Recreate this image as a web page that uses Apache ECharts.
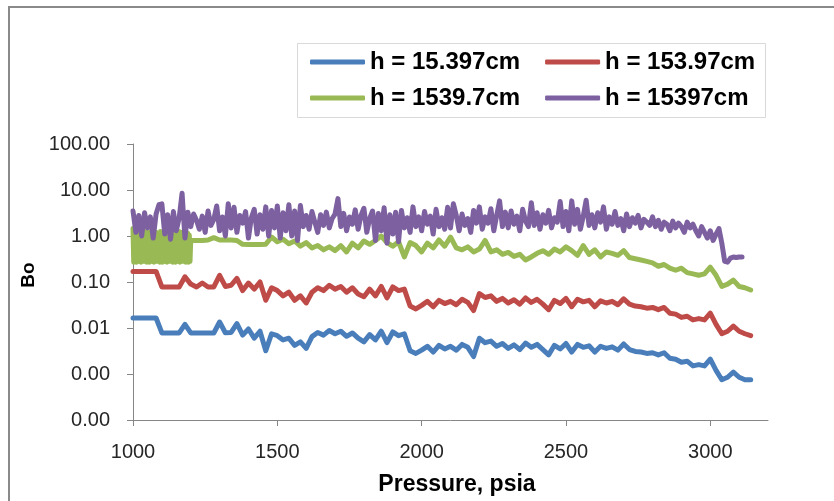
<!DOCTYPE html>
<html><head><meta charset="utf-8">
<script src="https://cdn.jsdelivr.net/npm/echarts@6/dist/echarts.min.js"></script>
<style>html,body{margin:0;padding:0;background:#fff}#c{width:834px;height:501px}</style>
</head><body><div id="c"></div>
<script>
const seriesNames = ['h = 15.397cm', 'h = 153.97cm', 'h = 1539.7cm', 'h = 15397cm'];
const xTickLabels = [1000, 1500, 2000, 2500, 3000];

const pressure = [1000,1020,1040,1060,1080,1100,1120,1140,1160,1180,
1200,1220,1240,1260,1280,1300,1320,1340,1360,1380,
1400,1420,1440,1460,1480,1500,1520,1540,1560,1580,
1600,1620,1640,1660,1680,1700,1720,1740,1760,1780,
1800,1820,1840,1860,1880,1900,1920,1940,1960,1980,
2000,2020,2040,2060,2080,2100,2120,2140,2160,2180,
2200,2220,2240,2260,2280,2300,2320,2340,2360,2380,
2400,2420,2440,2460,2480,2500,2520,2540,2560,2580,
2600,2620,2640,2660,2680,2700,2720,2740,2760,2780,
2800,2820,2840,2860,2880,2900,2920,2940,2960,2980,
3000,3020,3040,3060,3080,3100,3120,3140];

const blueBo = [0.0165,0.0165,0.0165,0.0165,0.0165,0.0078,0.0078,0.0078,0.0078,0.012,
0.0078,0.0078,0.0078,0.0078,0.0078,0.0135,0.0079,0.008,0.0125,0.007,
0.0095,0.006,0.0085,0.0032,0.0075,0.0068,0.0055,0.006,0.0042,0.005,
0.0036,0.0065,0.008,0.007,0.0088,0.0075,0.0085,0.0066,0.0078,0.006,
0.005,0.0072,0.0055,0.0085,0.0048,0.0082,0.0068,0.0075,0.0032,0.0028,
0.0033,0.004,0.003,0.0042,0.0035,0.004,0.0033,0.0044,0.0038,0.0024,
0.006,0.0048,0.0052,0.004,0.0046,0.0036,0.0043,0.0034,0.0047,0.0038,
0.0044,0.0034,0.0026,0.0042,0.0035,0.0046,0.003,0.0044,0.0038,0.0041,
0.003,0.004,0.0036,0.0039,0.0033,0.0045,0.0034,0.0031,0.003,0.0028,
0.0029,0.0026,0.0029,0.0022,0.0021,0.0018,0.0019,0.0015,0.0016,0.0015,
0.0021,0.0012,0.00075,0.00085,0.0011,0.00085,0.00075,0.00075];

const redBo = [0.17,0.17,0.17,0.17,0.17,0.078,0.078,0.078,0.078,0.13,
0.09,0.078,0.095,0.078,0.078,0.14,0.08,0.085,0.12,0.065,
0.095,0.07,0.1,0.04,0.075,0.065,0.05,0.06,0.04,0.05,
0.035,0.06,0.075,0.065,0.085,0.07,0.08,0.06,0.075,0.055,
0.048,0.07,0.05,0.08,0.045,0.078,0.065,0.07,0.03,0.026,
0.031,0.038,0.029,0.04,0.034,0.038,0.032,0.042,0.036,0.024,
0.056,0.046,0.05,0.038,0.044,0.035,0.041,0.033,0.045,0.036,
0.042,0.033,0.025,0.04,0.034,0.044,0.029,0.042,0.037,0.04,
0.029,0.039,0.035,0.038,0.032,0.043,0.033,0.03,0.029,0.027,
0.028,0.025,0.028,0.021,0.02,0.017,0.018,0.015,0.016,0.015,
0.021,0.012,0.0075,0.0085,0.011,0.0085,0.0075,0.0068];

const pressureGreenBand = [1000,1002.5,1005,1007.5,1010,1012.5,1015,1017.5,1020,1022.5,
1025,1027.5,1030,1032.5,1035,1037.5,1040,1042.5,1045,1047.5,
1050,1052.5,1055,1057.5,1060,1062.5,1065,1067.5,1070,1072.5,
1075,1077.5,1080,1082.5,1085,1087.5,1090,1092.5,1095,1097.5,
1100,1102.5,1105,1107.5,1110,1112.5,1115,1117.5,1120,1122.5,
1125,1127.5,1130,1132.5,1135,1137.5,1140,1142.5,1145,1147.5,
1150,1152.5,1155,1157.5,1160,1162.5,1165,1167.5,1170,1172.5,
1175,1177.5,1180,1182.5,1185,1187.5,1190,1192.5,1195,1197.5];
const greenBandBo = [1.45,0.27,1.2,0.29,1.05,0.27,1.25,0.28,1.0,0.29,
1.1,0.27,1.2,0.28,0.98,0.29,1.15,0.28,1.25,0.27,
1.05,0.29,1.2,0.27,1.1,0.28,1.0,0.29,1.3,0.27,
1.05,0.28,1.2,0.29,1.02,0.28,1.15,0.27,1.25,0.29,
1.05,0.27,1.1,0.28,1.25,0.29,1.0,0.27,1.2,0.28,
1.08,0.29,1.3,0.28,1.05,0.27,1.15,0.29,1.2,0.27,
1.0,0.28,1.1,0.29,1.25,0.27,1.05,0.28,1.2,0.29,
1.08,0.28,1.3,0.27,1.0,0.29,1.15,0.27,1.05,0.28];

const greenBo = [0.8,0.8,0.8,0.82,0.92,0.82,0.82,0.82,0.8,0.66,
0.65,0.65,0.65,0.66,0.95,0.75,0.85,0.68,0.78,0.6,
0.72,0.55,0.62,0.5,0.58,0.48,0.62,0.45,0.7,0.55,
0.78,0.66,0.8,1.0,0.72,0.6,0.75,0.35,0.72,0.62,
0.45,0.7,0.55,0.82,0.6,0.95,0.55,0.5,0.58,0.45,
0.52,0.8,0.45,0.5,0.4,0.44,0.36,0.4,0.3,0.35,
0.42,0.48,0.4,0.52,0.45,0.58,0.48,0.38,0.62,0.4,
0.5,0.35,0.45,0.42,0.38,0.48,0.34,0.32,0.3,0.28,
0.26,0.22,0.24,0.2,0.18,0.2,0.16,0.15,0.14,0.15,
0.21,0.14,0.08,0.09,0.11,0.08,0.075,0.067];

const pressurePurple = [1000,1010,1020,1030,1040,1050,1060,1070,1080,1090,
1100,1110,1120,1130,1140,1150,1160,1170,1180,1190,
1200,1210,1220,1230,1240,1250,1260,1270,1280,1290,
1300,1310,1320,1330,1340,1350,1360,1370,1380,1390,
1400,1410,1420,1430,1440,1450,1460,1470,1480,1490,
1500,1510,1520,1530,1540,1550,1560,1570,1580,1590,
1600,1610,1620,1630,1640,1650,1660,1670,1680,1690,
1700,1710,1720,1730,1740,1750,1760,1770,1780,1790,
1800,1810,1820,1830,1840,1850,1860,1870,1880,1890,
1900,1910,1920,1930,1940,1950,1960,1970,1980,1990,
2000,2010,2020,2030,2040,2050,2060,2070,2080,2090,
2100,2110,2120,2130,2140,2150,2160,2170,2180,2190,
2200,2210,2220,2230,2240,2250,2260,2270,2280,2290,
2300,2310,2320,2330,2340,2350,2360,2370,2380,2390,
2400,2410,2420,2430,2440,2450,2460,2470,2480,2490,
2500,2510,2520,2530,2540,2550,2560,2570,2580,2590,
2600,2610,2620,2630,2640,2650,2660,2670,2680,2690,
2700,2710,2720,2730,2740,2750,2760,2770,2780,2790,
2800,2810,2820,2830,2840,2850,2860,2870,2880,2890,
2900,2910,2920,2930,2940,2950,2960,2970,2980,2990,
3000,3010,3020,3030,3040,3050,3060,3070,3080,3090,3100,3110];

const purpleBo = [3.5,1.2,2.8,1.0,3.2,1.5,2.6,0.9,3.0,4.8,
5.0,1.1,2.9,0.85,3.4,1.3,2.5,8.5,0.9,3.3,
1.6,3.0,2.2,1.4,2.7,1.2,3.5,1.7,2.3,4.5,
1.3,2.6,1.0,5.0,1.5,4.2,1.2,2.8,1.9,3.4,
0.9,2.5,3.8,1.1,2.9,1.4,4.3,1.0,3.6,1.5,
4.5,0.9,3.2,1.3,4.8,1.0,3.5,0.8,4.6,1.6,
2.8,1.4,3.4,2.0,1.2,2.9,1.7,3.3,1.5,2.4,
3.0,6.5,1.6,3.1,1.3,2.6,1.8,3.7,1.4,2.8,
4.0,1.2,2.4,3.5,0.8,3.1,1.3,4.1,0.7,2.9,
1.1,3.3,0.75,3.6,1.5,2.5,1.2,4.3,1.6,2.6,
1.3,3.4,1.8,2.7,1.1,3.8,1.6,2.5,1.4,4.2,
1.5,5.0,2.8,1.3,3.0,1.7,2.4,1.2,3.6,1.9,
4.3,1.4,2.6,1.9,3.9,1.3,2.8,5.8,1.6,3.3,
1.5,3.5,1.8,2.7,1.3,3.8,2.1,1.6,5.3,1.7,
3.2,1.4,2.9,1.9,3.6,1.5,2.5,2.0,5.6,1.6,
3.4,1.3,5.8,1.8,3.8,1.4,2.7,6.0,1.7,2.9,
1.5,3.2,2.0,4.3,1.4,2.6,1.8,3.4,1.7,2.4,
1.3,3.0,1.6,2.5,1.9,2.8,1.5,2.3,2.0,1.7,
2.6,1.6,2.2,1.4,2.0,1.8,1.3,2.1,1.5,1.9,
1.6,1.2,2.0,1.5,1.8,1.3,1.0,1.6,1.2,0.9,
1.3,0.8,1.1,1.45,0.7,0.28,0.27,0.33,0.35,0.34,0.35,0.35];

const colors = ['#4A7EBB', '#BE4B48', '#98B954', '#7D60A0'];

function pairs(xs, ys) { return ys.map(function (y, i) { return [xs[i], y]; }); }

const chart = echarts.init(document.getElementById('c'), null, { renderer: 'canvas' });

const font = 'Liberation Sans, Arial, sans-serif';
function mkSeries(name, data, color) {
  return {
    name: name, type: 'line', data: data, symbol: 'none', showSymbol: false,
    lineStyle: { width: 5, color: color, cap: 'round', join: 'round' },
    itemStyle: { color: color },
    emphasis: { disabled: true }, animation: false
  };
}
const legendCommon = {
  orient: 'horizontal', padding: 0, itemGap: 25, itemWidth: 55, itemHeight: 5,
  icon: 'roundRect', selectedMode: false,
  textStyle: { fontSize: 24, fontWeight: 'bold', fontFamily: font, color: '#000' }
};

chart.setOption({
  backgroundColor: '#fff',
  animation: false,
  color: colors,
  grid: { left: 133, right: 66, top: 144, bottom: 81, containLabel: false, outerBoundsMode: 'none' },
  legend: [
    Object.assign({}, legendCommon, { data: [seriesNames[0], seriesNames[1]], left: 310, top: 50 }),
    Object.assign({}, legendCommon, { data: [seriesNames[2], seriesNames[3]], left: 310, top: 86 })
  ],
  graphic: [
    { type: 'rect', shape: { x: 9, y: 7, width: 900, height: 600 }, style: { fill: 'none', stroke: '#8a8a8a', lineWidth: 2 }, silent: true, z: -10 },
    { type: 'rect', shape: { x: 297.5, y: 43.5, width: 468, height: 74 }, style: { fill: '#fff', stroke: '#d9d9d9', lineWidth: 1 }, silent: true, z: -5 }
  ],
  xAxis: {
    type: 'value', min: 1000, max: 3200, interval: 500,
    axisLine: { show: true, onZero: false, lineStyle: { color: '#868686', width: 1 } },
    axisTick: { show: true, length: 6, lineStyle: { color: '#868686' }, customValues: xTickLabels },
    axisLabel: { customValues: xTickLabels, margin: 22, fontSize: 20, fontFamily: font, color: '#262626', formatter: function (v) { return String(v); } },
    splitLine: { show: false },
    name: 'Pressure, psia', nameLocation: 'middle', nameGap: 53,
    nameTextStyle: { fontSize: 23, fontWeight: 'bold', fontFamily: font, color: '#000', padding: [0, 0, 0, 13] }
  },
  yAxis: {
    type: 'log', logBase: 10, min: 0.0001, max: 100,
    axisLine: { show: true, lineStyle: { color: '#868686', width: 1 } },
    axisTick: { show: true, length: 6, lineStyle: { color: '#868686' } },
    minorTick: { show: false },
    axisLabel: { margin: 23, fontSize: 20, fontFamily: font, color: '#262626', formatter: function (v) { return Number(v).toFixed(2); } },
    splitLine: { show: false },
    name: 'Bo', nameLocation: 'middle', nameGap: 92, nameRotate: 90,
    nameTextStyle: { fontSize: 19, fontWeight: 'bold', fontFamily: font, color: '#000', padding: [0, 0, 0, 14] }
  },
  series: [
    mkSeries(seriesNames[0], pairs(pressure, blueBo), colors[0]),
    mkSeries(seriesNames[1], pairs(pressure, redBo), colors[1]),
    mkSeries(seriesNames[2], pairs(pressureGreenBand, greenBandBo).concat(pairs(pressure.slice(10), greenBo)), colors[2]),
    mkSeries(seriesNames[3], pairs(pressurePurple, purpleBo), colors[3])
  ]
});
</script>
</body></html>
